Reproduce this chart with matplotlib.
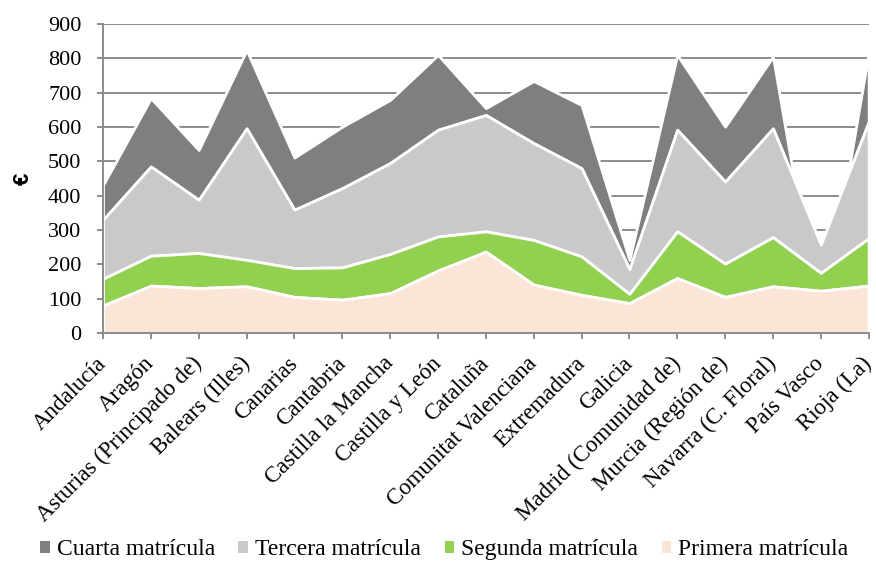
import numpy as np
import matplotlib
matplotlib.use('Agg')
import matplotlib.pyplot as plt
import matplotlib.transforms as mtransforms
from matplotlib.patches import Patch

# Comunidades autónomas
regiones = ['Andalucía', 'Aragón', 'Asturias (Principado de)', 'Balears (Illes)',
            'Canarias', 'Cantabria', 'Castilla la Mancha', 'Castilla y León',
            'Cataluña', 'Comunitat Valenciana', 'Extremadura', 'Galicia',
            'Madrid (Comunidad de)', 'Murcia (Región de)', 'Navarra (C. Floral)',
            'País Vasco', 'Rioja (La)']

# Precio por matrícula (€)
primera = [80, 138, 131, 136, 105, 97, 116, 182, 237, 141, 111, 87, 160, 105, 136, 123, 138]
segunda = [78, 87, 102, 77, 84, 94, 114, 99, 59, 130, 112, 27, 136, 97, 143, 52, 138]
tercera = [172, 260, 155, 383, 170, 231, 265, 311, 339, 282, 257, 72, 296, 239, 317, 82, 339]
cuarta = [101, 199, 145, 228, 152, 179, 184, 218, 20, 181, 184, 27, 218, 160, 209, np.nan, 200]

series = ['Cuarta matrícula', 'Tercera matrícula', 'Segunda matrícula', 'Primera matrícula']
colores = ['#7f7f7f', '#c9c9c9', '#92d050', '#fbe5d6']

plt.rcParams['font.family'] = ['Liberation Serif', 'DejaVu Serif']

x = np.arange(len(regiones))
p = np.array(primera, dtype=float)
s = np.array(segunda, dtype=float)
t = np.array(tercera, dtype=float)
c = np.array(cuarta, dtype=float)

base1 = p
base2 = base1 + s
base3 = base2 + t
# sin dato -> la línea cae a cero
base4 = np.where(np.isnan(c), 0, base3 + np.nan_to_num(c))

fig = plt.figure(figsize=(8.76, 5.62), dpi=100)
ax = fig.add_axes([0.1176, 0.4075, 0.874, 0.5498])

# capas de arriba abajo, cada una tapa a la anterior
capas = [(base3, base4), (base2, base3), (base1, base2), (np.zeros_like(p), base1)]
for (abajo, arriba), col in zip(capas, colores):
    ax.fill_between(x, abajo, arriba, facecolor=col, edgecolor='white',
                    linewidth=2.0, zorder=2)

ax.set_xlim(0, len(regiones) - 1)
ax.set_ylim(0, 900)
ax.set_yticks(range(0, 901, 100))
ax.yaxis.grid(True, color='#8c8c8c', linewidth=1.4, zorder=0)
ax.set_axisbelow(True)

for lado in ['top', 'right']:
    ax.spines[lado].set_visible(False)
for lado in ['left', 'bottom']:
    ax.spines[lado].set_color('#8c8c8c')
    ax.spines[lado].set_linewidth(1.4)
    ax.spines[lado].set_zorder(3)

ax.tick_params(axis='both', colors='#8c8c8c', width=1.4, length=4.5,
               labelcolor='black', labelsize=16)
ax.tick_params(axis='y', pad=11)
ax.set_xticks(x)
ax.set_xticklabels(regiones, rotation=45, ha='right', va='baseline',
                   rotation_mode='anchor', fontsize=16.5)
ax.tick_params(axis='x', pad=18)
desplazar = mtransforms.ScaledTranslation(4 / 100, 0, fig.dpi_scale_trans)
for etiqueta in ax.get_xticklabels():
    etiqueta.set_transform(etiqueta.get_transform() + desplazar)

ax.set_ylabel('€', fontsize=16, fontweight='bold', family='Liberation Sans',
              labelpad=10)

handles = [Patch(facecolor=col, edgecolor='none') for col in colores]
fig.legend(handles, series, loc='lower center', bbox_to_anchor=(0.507, -0.035),
           ncol=4, frameon=False, fontsize=17, handlelength=0.4,
           handleheight=0.4, handletextpad=0.3, columnspacing=1.0)

fig.savefig('out.png', dpi=100)
